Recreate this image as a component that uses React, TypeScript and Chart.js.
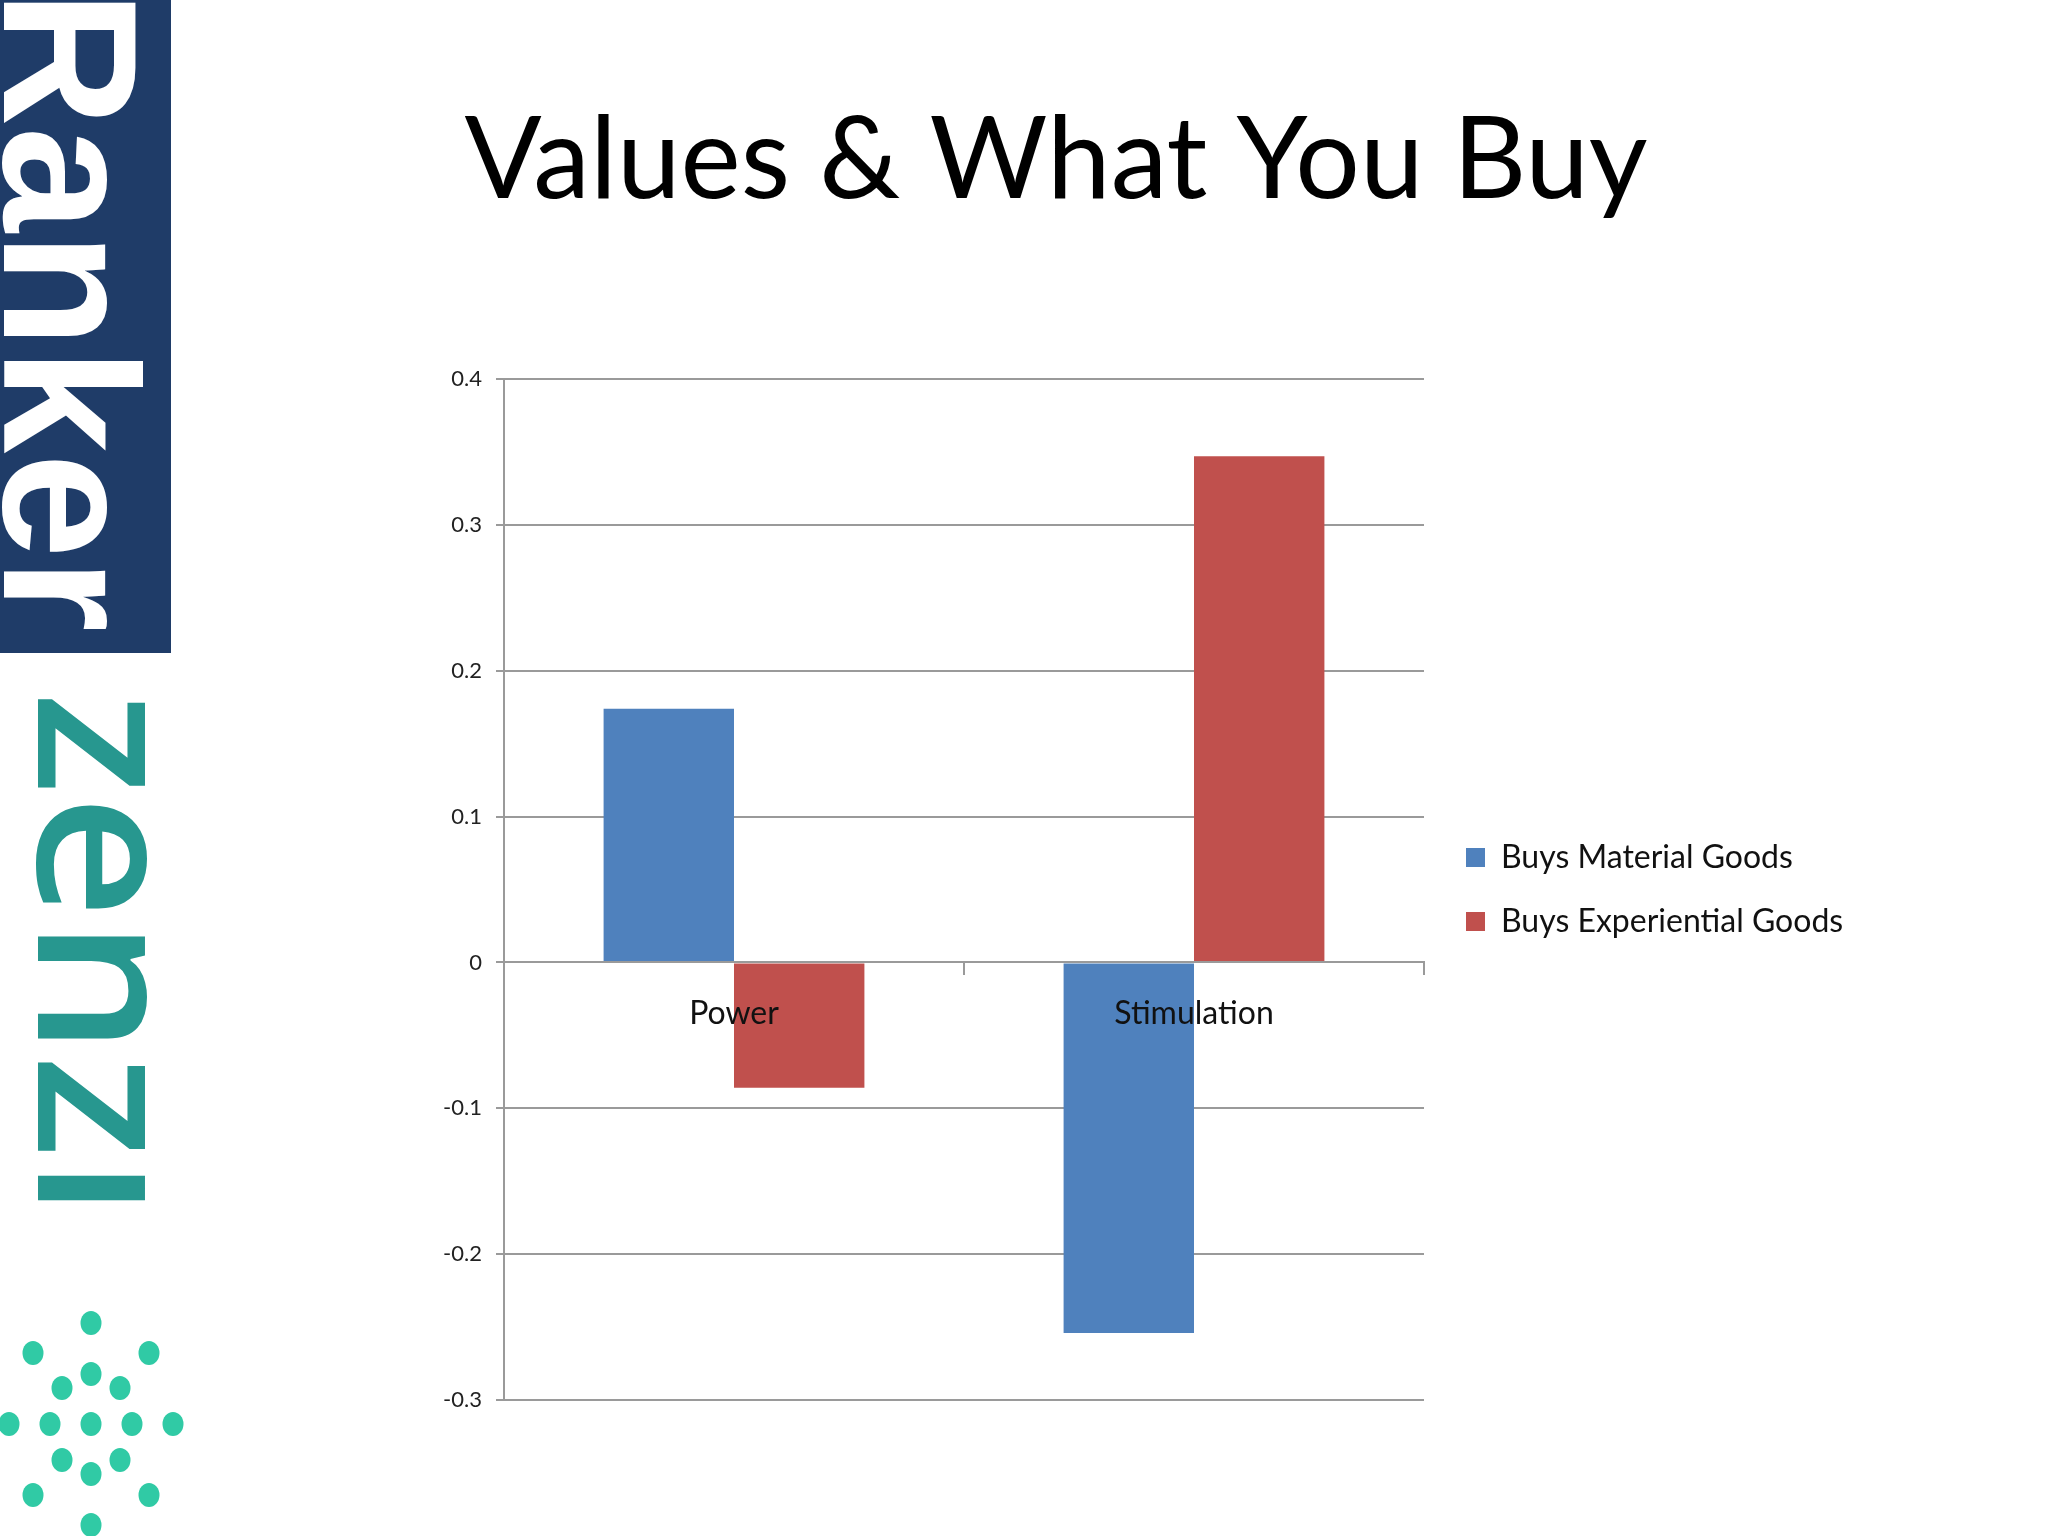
import React, { useEffect, useRef } from 'react';
import { Chart, registerables } from 'chart.js';

Chart.register(...registerables);

// ---------- data ----------
const categories = ['Power', 'Stimulation'];
const seriesNames = ['Buys Material Goods', 'Buys Experiential Goods'];
const materialValues = [0.174, -0.254];
const experientialValues = [-0.086, 0.347];
const seriesColors = ['#4F81BD', '#C0504D'];
const yMin = -0.3;
const yMax = 0.4;
const yStep = 0.1;
const titleText = 'Values & What You Buy';
const brandName = 'Ranker';
const brandSub = 'zenzi';

// ---------- layout targets ----------
const W = 2048;
const H = 1536;
const AREA_LEFT = 504;
const AREA_RIGHT = 1424;
const AREA_TOP = 379;
const AREA_BOTTOM = 1400;
const TITLE_CX = 1056;
const LEGEND_GAP = 10;
const GRID_COLOR = '#9a9a9a';

const dotOffsets: [number, number][] = [
  [0, -101], [-58, -71], [58, -71], [0, -50], [-29, -36], [29, -36],
  [-82, 0], [-41, 0], [0, 0], [41, 0], [82, 0],
  [-29, 36], [29, 36], [0, 50], [-58, 71], [58, 71], [0, 101],
];

function drawRotatedText(
  ctx: CanvasRenderingContext2D,
  text: string,
  font: string,
  color: string,
  baselineX: number,
  startY: number,
  length: number
) {
  ctx.save();
  ctx.translate(baselineX, startY);
  ctx.rotate(Math.PI / 2);
  ctx.font = font;
  ctx.fillStyle = color;
  ctx.textBaseline = 'alphabetic';
  ctx.textAlign = 'left';
  const w = ctx.measureText(text).width;
  ctx.scale(length / w, 1);
  ctx.fillText(text, 0, 0);
  ctx.restore();
}

const logoPlugin = {
  id: 'slideLogo',
  beforeDraw(chart: any) {
    const ctx: CanvasRenderingContext2D = chart.ctx;
    ctx.save();
    ctx.fillStyle = '#1f3c68';
    ctx.fillRect(0, 0, 171, 653);
    ctx.save();
    ctx.beginPath();
    ctx.rect(0, 0, 171, 653);
    ctx.clip();
    drawRotatedText(ctx, brandName, 'bold 192px "Liberation Sans"', '#ffffff', 4, -10, 642);
    ctx.restore();
    ctx.save();
    ctx.beginPath();
    ctx.rect(0, 660, 148, 580);
    ctx.clip();
    drawRotatedText(ctx, brandSub, '600 198px "Open Sans"', '#27978f', 38, 692, 526);
    ctx.restore();
    ctx.fillStyle = '#30caa5';
    const cx = 91;
    const cy = 1424;
    dotOffsets.forEach(([dx, dy]) => {
      ctx.beginPath();
      ctx.ellipse(cx + dx, cy + dy, 10.5, 12, 0, 0, Math.PI * 2);
      ctx.fill();
    });
    ctx.restore();
  },
};

export default function App() {
  const canvasRef = useRef<HTMLCanvasElement | null>(null);

  useEffect(() => {
    const canvas = canvasRef.current;
    if (!canvas) return;
    const state = { yWidth: 200 };

    const chart = new Chart(canvas, {
      type: 'bar',
      data: {
        labels: categories,
        datasets: [
          {
            label: seriesNames[0],
            data: materialValues,
            backgroundColor: seriesColors[0],
            borderWidth: 0,
          },
          {
            label: seriesNames[1],
            data: experientialValues,
            backgroundColor: seriesColors[1],
            borderWidth: 0,
          },
        ],
      },
      options: {
        responsive: false,
        animation: false,
        devicePixelRatio: 1,
        datasets: {
          bar: { categoryPercentage: 0.567, barPercentage: 1.0 },
        },
        layout: {
          padding: { left: 280, right: 220, top: 0, bottom: H - AREA_BOTTOM },
        },
        font: { family: 'Lato' },
        plugins: {
          title: {
            display: true,
            text: titleText,
            color: '#000000',
            font: { family: 'Lato', size: 114, weight: 'normal', lineHeight: 1.2 },
            padding: { top: 93, bottom: AREA_TOP - 93 - 114 * 1.2 },
          },
          legend: {
            display: true,
            position: 'right',
            fullSize: false,
            align: 'center',
            maxWidth: 800,
            labels: {
              color: '#111111',
              font: { family: 'Lato', size: 32 },
              boxWidth: 19,
              boxHeight: 19,
              padding: 32,
            },
          },
          tooltip: { enabled: false },
        },
        scales: {
          x: {
            type: 'category',
            position: { y: 0 } as any,
            offset: true,
            grid: {
              display: true,
              drawOnChartArea: false,
              drawTicks: true,
              tickLength: 12,
              offset: true,
              color: GRID_COLOR,
              lineWidth: 2,
            },
            border: { display: true, color: GRID_COLOR, width: 2, z: 1 },
            ticks: {
              color: '#111111',
              font: { family: 'Lato', size: 32 },
              padding: 20,
              z: 1,
              maxRotation: 0,
            },
          },
          y: {
            type: 'linear',
            position: 'left',
            min: yMin,
            max: yMax,
            ticks: {
              stepSize: yStep,
              color: '#222222',
              font: { family: 'Lato', size: 22 },
              padding: 14,
              callback: (v: any) => String(Math.round(Number(v) * 10) / 10),
            },
            grid: {
              color: GRID_COLOR,
              lineWidth: 2,
              tickLength: 8,
              drawTicks: true,
            },
            border: { display: true, color: GRID_COLOR, width: 2 },
            afterFit: (s: any) => {
              s.width = state.yWidth;
            },
          },
          gap: {
            type: 'linear',
            position: 'right',
            display: true,
            grid: { display: false },
            border: { display: false },
            ticks: { display: false },
            afterFit: (s: any) => {
              s.width = LEGEND_GAP;
            },
          },
        },
      },
      plugins: [logoPlugin],
    });

    // fit the plot area & title centre to the reference positions
    for (let pass = 0; pass < 2; pass++) {
      const legendW = chart.legend ? chart.legend.width : 0;
      const R = W - AREA_RIGHT - legendW - LEGEND_GAP;
      const L = 2 * TITLE_CX - W + R;
      state.yWidth = AREA_LEFT - L;
      (chart.options.layout as any).padding = { left: L, right: R, top: 0, bottom: H - AREA_BOTTOM };
      chart.update();
    }

    return () => {
      chart.destroy();
    };
  }, []);

  return (
    <div style={{ position: 'fixed', left: 0, top: 0, width: W, height: H, background: '#ffffff' }}>
      <canvas ref={canvasRef} width={W} height={H} style={{ display: 'block', width: W, height: H }} />
    </div>
  );
}
